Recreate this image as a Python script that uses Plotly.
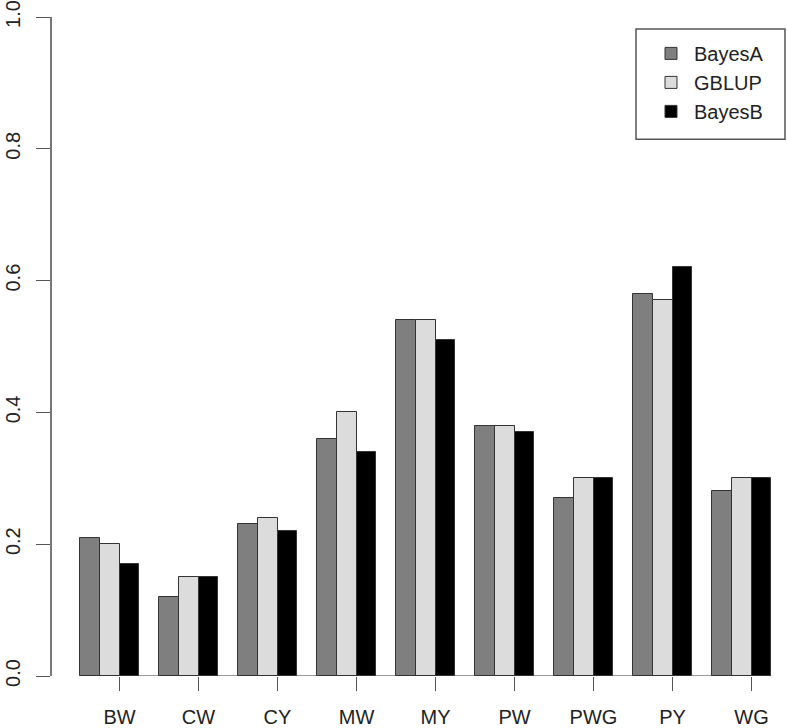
import plotly.graph_objects as go

categories = ["BW", "CW", "CY", "MW", "MY", "PW", "PWG", "PY", "WG"]
series_names = ["BayesA", "GBLUP", "BayesB"]
bayesA = [0.21, 0.12, 0.23, 0.36, 0.54, 0.38, 0.27, 0.58, 0.28]
gblup = [0.20, 0.15, 0.24, 0.40, 0.54, 0.38, 0.30, 0.57, 0.30]
bayesB = [0.17, 0.15, 0.22, 0.34, 0.51, 0.37, 0.30, 0.62, 0.30]
y_ticks = [0.0, 0.2, 0.4, 0.6, 0.8, 1.0]

series = [bayesA, gblup, bayesB]
colors = ["#7f7f7f", "#dcdcdc", "#000000"]

n_ser = len(series)
group_w = n_ser + 1  # bars plus one space

def bar_x(i, j):
    return 1 + i * group_w + j + 0.5

FONT = "Liberation Sans, Arial, sans-serif"

fig = go.Figure()
for j, (name, vals, col) in enumerate(zip(series_names, series, colors)):
    fig.add_trace(go.Bar(
        x=[bar_x(i, j) for i in range(len(categories))],
        y=vals,
        width=1,
        name=name,
        marker=dict(color=col, line=dict(color="#333333", width=1)),
    ))

tickpos = [1 + i * group_w + 2 for i in range(len(categories))]
first_left = 1
last_right = 1 + (len(categories) - 1) * group_w + n_ser

fig.add_shape(type="line", xref="x", yref="y",
              x0=first_left, x1=last_right, y0=0, y1=0,
              line=dict(color="#333333", width=1))

# plot area in page pixels
L, R, T, B = 52, 787, 16, 679
W, H = R - L, B - T

def px(xp):
    return (xp - L) / W

def py(yp):
    return (B - yp) / H

# legend frame
fig.add_shape(type="rect", xref="paper", yref="paper",
              x0=px(636), x1=px(785), y0=py(139), y1=py(28),
              line=dict(color="#555555", width=1.5), fillcolor="rgba(0,0,0,0)")

px_per_unit = 19.75
x_left = (L - 60.25) / px_per_unit
x_right = (R - 60.25) / px_per_unit

fig.update_layout(
    width=787, height=728,
    margin=dict(l=L, r=787 - R, t=T, b=728 - B),
    plot_bgcolor="white", paper_bgcolor="white",
    barmode="overlay",
    bargap=0,
    font=dict(family=FONT, size=20, color="#222222"),
    showlegend=True,
    legend=dict(
        x=px(648), y=py(33),
        xanchor="left", yanchor="top",
        borderwidth=0,
        bgcolor="rgba(0,0,0,0)",
        itemwidth=36,
        font=dict(family=FONT, size=20, color="#222222"),
        tracegroupgap=0,
    ),
    xaxis=dict(
        range=[x_left, x_right],
        tickvals=tickpos, ticktext=categories,
        ticks="outside", ticklen=14, tickcolor="#555555", tickwidth=1,
        showline=False, showgrid=False, zeroline=False,
        ticklabelstandoff=9,
        ticklabeloverflow="allow",
    ),
    yaxis=dict(
        range=[0, 1],
        tickvals=y_ticks, tickformat=".1f",
        tickangle=-90,
        ticks="outside", ticklen=14, tickcolor="#555555", tickwidth=1,
        showline=True, linecolor="#777777", linewidth=1.5,
        showgrid=False, zeroline=False,
        ticklabelstandoff=8,
        ticklabeloverflow="allow",
    ),
)

fig.write_html("out.html", config={"displayModeBar": False},
               post_script="document.body.style.margin='0px';")
